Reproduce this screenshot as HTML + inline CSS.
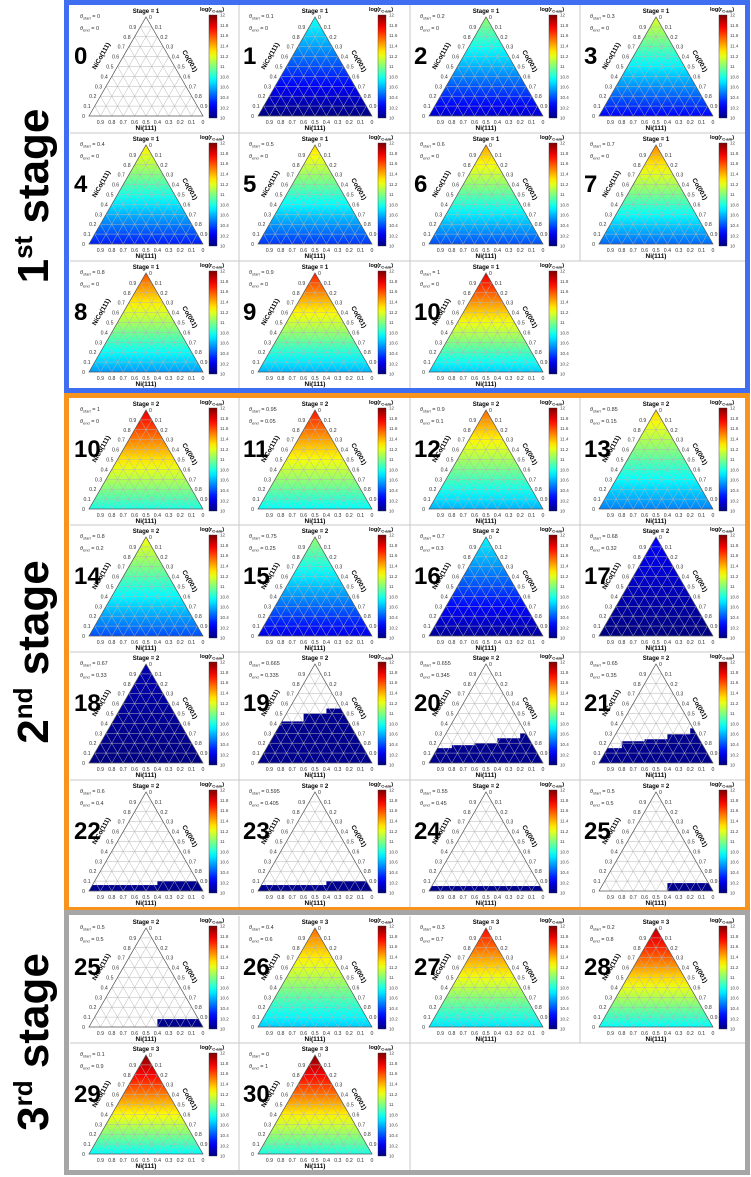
<!DOCTYPE html>
<html><head><meta charset="utf-8"><style>
html,body{margin:0;padding:0;background:#fff;}
svg{display:block;font-family:"Liberation Sans",Arial,sans-serif;}
</style></head><body>
<svg id="fig" width="751" height="1177" viewBox="0 0 751 1177" xmlns="http://www.w3.org/2000/svg">
<defs id="defs"></defs>
<rect x="0" y="0" width="751" height="1177" fill="#fff"/>
<rect x="66.5" y="2.5" width="681" height="388" fill="none" stroke="#3f6ff0" stroke-width="5"/>
<rect x="66.5" y="395.5" width="681" height="514" fill="none" stroke="#f7941d" stroke-width="5"/>
<rect x="66.5" y="912.5" width="681" height="260" fill="none" stroke="#a6a6a6" stroke-width="5"/>
<text transform="translate(48,196) rotate(-90)" text-anchor="middle" font-size="44" font-weight="bold">1<tspan font-size="26" dy="-16">st</tspan><tspan dy="16"> stage</tspan></text>
<text transform="translate(48,652) rotate(-90)" text-anchor="middle" font-size="44" font-weight="bold">2<tspan font-size="26" dy="-16">nd</tspan><tspan dy="16"> stage</tspan></text>
<text transform="translate(48,1042) rotate(-90)" text-anchor="middle" font-size="44" font-weight="bold">3<tspan font-size="26" dy="-16">rd</tspan><tspan dy="16"> stage</tspan></text>
<g id="cells"></g>
</svg>
<script>
// ---- data ----
const cellLabels = [0,1,2,3,4,5,6,7,8,9,10, 10,11,12,13,14,15,16,17,18,19,20,21,22,23,24,25, 25,26,27,28,29,30];
const stageNums  = [1,1,1,1,1,1,1,1,1,1,1, 2,2,2,2,2,2,2,2,2,2,2,2,2,2,2,2, 2,3,3,3,3,3];
const thetaStart = [0,0.1,0.2,0.3,0.4,0.5,0.6,0.7,0.8,0.9,1, 1,0.95,0.9,0.85,0.8,0.75,0.7,0.68,0.67,0.665,0.655,0.65,0.6,0.595,0.55,0.5, 0.5,0.4,0.3,0.2,0.1,0];
const thetaEnd   = [0,0,0,0,0,0,0,0,0,0,0, 0,0.05,0.1,0.15,0.2,0.25,0.3,0.32,0.33,0.335,0.345,0.35,0.4,0.405,0.45,0.5, 0.5,0.6,0.7,0.8,0.9,1];
const topVals    = [null,10.8,11.05,11.2,11.3,11.35,11.45,11.5,11.6,11.7,11.8, 11.8,11.72,11.55,11.35,11.25,11.05,10.75,10.25,10.1,null,null,null,null,null,null,null, null,11.55,11.75,11.9,12,12];
const bottomVals = [null,10.0,10.15,10.25,10.3,10.35,10.4,10.45,10.55,10.6,10.65, 10.8,10.75,10.6,10.5,10.4,10.2,10.05,10.0,10.0,null,null,null,null,null,null,null, null,10.65,10.7,10.75,10.75,10.8];
const stepLevels = [null,null,null,null,null,null,null,null,null,null,null, null,null,null,null,null,null,null,null,null,
  [0.38,0.42,0.5,0.55,0.6],[0.15,0.18,0.2,0.25,0.3],[0.15,0.22,0.24,0.29,0.35],[0.06,0.06,0.06,0.1,0.1],[0.06,0.06,0.06,0.1,0.1],[0.05,0.05,0.05,0.05,0.05],[0,0,0,0.08,0.08],
  [0,0,0,0.08,0.08],null,null,null,null,null];
const cbTicks = ["12","11.8","11.6","11.4","11.2","11","10.8","10.6","10.4","10.2","10"];
const axisTicks = ["0","0.1","0.2","0.3","0.4","0.5","0.6","0.7","0.8","0.9"];

// ---- layout ----
const colX = [70,239,410,580];
const rowY = [5,133,261, 398,525,652,780, 916,1043];
const cellPos = [];
for(let i=0;i<11;i++) cellPos.push([colX[i%4], rowY[Math.floor(i/4)]]);
for(let i=0;i<16;i++) cellPos.push([colX[i%4], rowY[3+Math.floor(i/4)]]);
for(let i=0;i<6;i++) cellPos.push([colX[i%4], rowY[7+Math.floor(i/4)]]);

const NS="http://www.w3.org/2000/svg";
function el(tag,attrs,parent){const e=document.createElementNS(NS,tag);for(const k in attrs)e.setAttribute(k,attrs[k]);if(parent)parent.appendChild(e);return e;}
function txt(str,attrs,parent){const e=el('text',attrs,parent);e.textContent=str;return e;}
function clamp(v){return Math.max(0,Math.min(1,v));}
function jet(v){const t=clamp((v-10)/2);const r=clamp(1.5-Math.abs(4*t-3)),g=clamp(1.5-Math.abs(4*t-2)),b=clamp(1.5-Math.abs(4*t-1));
  return `rgb(${Math.round(r*255)},${Math.round(g*255)},${Math.round(b*255)})`;}

const defs=document.getElementById('defs');
const cells=document.getElementById('cells');
const cbg=el('linearGradient',{id:'cbgrad',x1:0,y1:1,x2:0,y2:0},defs);
for(let s=0;s<=20;s++) el('stop',{offset:s/20,'stop-color':jet(10+2*s/20)},cbg);

[[239,5,239,388],[410,5,410,388],[580,5,580,261],[70,133,745,133],[70,261,745,261],
 [239,398,239,907],[410,398,410,907],[580,398,580,907],[70,525,745,525],[70,652,745,652],[70,780,745,780],
 [239,916,239,1170],[410,916,410,1170],[580,916,580,1043],[70,1043,745,1043]].forEach(l=>{
  const d=el('line',{x1:l[0],y1:l[1],x2:l[2],y2:l[3],stroke:'#c8c8c8','stroke-width':1},cells);
  
  
});

const BLx=19, BRx=133, Ax=76, Ay=12, By=111;
const W=BRx-BLx, H=By-Ay;
function P(a,b){return [BLx+W*a+(Ax-BLx)*b, By-H*b];}

cellLabels.forEach((lab,i)=>{
  const [ox,oy]=cellPos[i];
  const g=el('g',{transform:`translate(${ox},${oy})`},cells);
  
  
  const tri=`${BLx},${By} ${BRx},${By} ${Ax},${Ay}`;
  const cid='clip'+i;
  const cp=el('clipPath',{id:cid},defs);
  el('polygon',{points:tri},cp);
  if(topVals[i]!==null){
    const gid='tg'+i;
    const lg=el('linearGradient',{id:gid,x1:0,y1:0,x2:0,y2:1},defs);
    for(let s=0;s<=10;s++) el('stop',{offset:s/10,'stop-color':jet(topVals[i]+(bottomVals[i]-topVals[i])*s/10)},lg);
    const f=el('polygon',{points:tri,fill:`url(#${gid})`},g);
    
    
  }
  if(stepLevels[i]){
    const sg=el('g',{'clip-path':`url(#${cid})`},g);
    stepLevels[i].forEach((lv,k)=>{
      if(lv<=0) return;
      const r=el('rect',{x:BLx+k*W/5,y:By-lv*H,width:W/5+0.5,height:lv*H,fill:jet(10.03)},sg);
      
      
    });
  }
  const gg=el('g',{stroke:'#b5b5b5','stroke-width':0.5,fill:'none'},g);
  
  
  for(let k=1;k<10;k++){
    const t=k/10;
    let p1=P(0,t),p2=P(1-t,t); el('line',{x1:p1[0],y1:p1[1],x2:p2[0],y2:p2[1]},gg);
    p1=P(t,0);p2=P(0,t); el('line',{x1:p1[0],y1:p1[1],x2:p2[0],y2:p2[1]},gg);
    p1=P(t,0);p2=P(t,1-t); el('line',{x1:p1[0],y1:p1[1],x2:p2[0],y2:p2[1]},gg);
  }
  const outline=el('polygon',{points:tri,fill:'none',stroke:'#555','stroke-width':0.7},g);
  
  
  const tk=el('g',{'font-size':5.2,fill:'#333'},g);
  
  
  axisTicks.forEach((s,k)=>{
    const t=k/10;
    let p=P(0,t); txt(s,{x:p[0]-4,y:p[1]+2,'text-anchor':'end'},tk);
    p=P(1-t,0); txt(s,{x:p[0],y:By+8,'text-anchor':'middle'},tk);
    p=P(t,1-t); txt(s,{x:p[0]+3,y:p[1]+2,'text-anchor':'start'},tk);
  });
  let t1=txt('Ni(111)',{x:76,y:125,'text-anchor':'middle','font-size':6.5,'font-weight':'bold'},g);
   
  t1=txt('NiCo(111)',{transform:'translate(33,52) rotate(-60)','text-anchor':'middle','font-size':6.5,'font-weight':'bold'},g);
   
  t1=txt('Co(001)',{transform:'translate(118,57) rotate(60)','text-anchor':'middle','font-size':6.5,'font-weight':'bold'},g);
   
  t1=txt('Stage = '+stageNums[i],{x:76,y:8,'text-anchor':'middle','font-size':6,'font-weight':'bold'},g);
   
  t1=txt('',{x:10,y:13,'font-size':5.5,fill:'#333'},g);
  t1.innerHTML=`<tspan font-style="italic">θ</tspan><tspan font-size="4" dy="1.5">start</tspan><tspan dy="-1.5"> = ${thetaStart[i]}</tspan>`;
   
  t1=txt('',{x:10,y:25,'font-size':5.5,fill:'#333'},g);
  t1.innerHTML=`<tspan font-style="italic">θ</tspan><tspan font-size="4" dy="1.5">end</tspan><tspan dy="-1.5"> = ${thetaEnd[i]}</tspan>`;
   
  t1=txt(String(lab),{x:4,y:59,'font-size':24,'font-weight':'bold'},g);
   
  const cb=el('rect',{x:139,y:10,width:8,height:103,fill:'url(#cbgrad)',stroke:'#333','stroke-width':0.4},g);
   
  t1=txt('',{x:142,y:6,'text-anchor':'middle','font-size':5.5,'font-weight':'bold'},g);
  t1.innerHTML='log(r<tspan font-size="4" dy="1.5">C-am</tspan><tspan dy="-1.5">)</tspan>';
   
  const ct=el('g',{'font-size':4.5,fill:'#444'},g);
   
  cbTicks.forEach((s,k)=>{ txt(s,{x:150,y:10+103*k/10+1.6},ct); });
});
</script>
</body></html>
